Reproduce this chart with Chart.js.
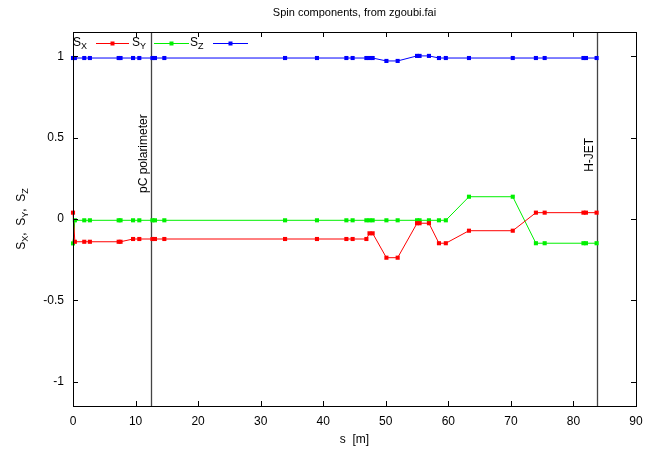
<!DOCTYPE html>
<html><head><meta charset="utf-8">
<script src="https://cdn.jsdelivr.net/npm/chart.js@4/dist/chart.umd.min.js"></script>
<style>html,body{margin:0;padding:0;background:#fff;} #wrap{width:659px;height:449px;}</style>
</head><body><div id="wrap"><canvas id="c" width="659" height="449"></canvas></div>
<script>
// ---- data ----
const sPos = [0, 0.3, 1.8, 2.7, 7.3, 7.6, 9.6, 10.6, 12.7, 13.1, 14.6, 33.9, 39.0, 43.7, 44.7, 46.9, 47.4, 47.9, 50.1, 51.9, 55.0, 55.4, 56.9, 58.5, 59.6, 63.3, 70.3, 74.0, 75.4, 81.6, 82.0, 83.7];
const sX = [0.039, -0.14, -0.14, -0.14, -0.14, -0.14, -0.123, -0.123, -0.123, -0.123, -0.123, -0.123, -0.123, -0.123, -0.123, -0.123, -0.088, -0.088, -0.238, -0.238, -0.026, -0.026, -0.026, -0.149, -0.149, -0.072, -0.072, 0.039, 0.039, 0.039, 0.039, 0.039];
const sY = [-0.15, -0.008, -0.008, -0.008, -0.008, -0.008, -0.008, -0.008, -0.008, -0.008, -0.008, -0.008, -0.008, -0.008, -0.008, -0.008, -0.008, -0.008, -0.008, -0.008, -0.008, -0.008, -0.008, -0.008, -0.008, 0.137, 0.137, -0.149, -0.149, -0.149, -0.149, -0.149];
const sZ = [0.99, 0.99, 0.99, 0.99, 0.99, 0.99, 0.99, 0.99, 0.99, 0.99, 0.99, 0.99, 0.99, 0.99, 0.99, 0.99, 0.99, 0.99, 0.972, 0.972, 1.003, 1.003, 1.003, 0.99, 0.99, 0.99, 0.99, 0.99, 0.99, 0.99, 0.99, 0.99];
const xTicks = [0, 10, 20, 30, 40, 50, 60, 70, 80, 90];
const yTicks = [-1, -0.5, 0, 0.5, 1];
const markerLines = [{s: 12.47, label: 'pC polarimeter', at: 0.16}, {s: 83.7, label: 'H-JET', at: 0.29}];
const seriesNames = ['X', 'Y', 'Z'];
const seriesColors = ['#ff0000', '#00f000', '#0000ff'];

const FONT = '"Liberation Sans", Arial, sans-serif';
const toPts = arr => sPos.map((s, i) => ({x: s, y: arr[i]}));

function drawSub(ctx, x, y, parts) {
  let cx = x;
  for (const [t, sub] of parts) {
    ctx.font = (sub ? '9px ' : '12px ') + FONT;
    ctx.fillText(t, cx, y + (sub ? 3 : 0));
    cx += ctx.measureText(t).width;
  }
  return cx - x;
}
function measureSub(ctx, parts) {
  let w = 0;
  for (const [t, sub] of parts) { ctx.font = (sub ? '9px ' : '12px ') + FONT; w += ctx.measureText(t).width; }
  return w;
}

const decor = {
  id: 'decor',
  beforeDatasetsDraw(chart) {
    const {ctx, chartArea: a, scales: {x, y}} = chart;
    ctx.save();
    ctx.strokeStyle = '#444';
    ctx.lineWidth = 1.3;
    for (const m of markerLines) {
      const px = Math.round(x.getPixelForValue(m.s)) + 0.5;
      ctx.beginPath(); ctx.moveTo(px, a.top); ctx.lineTo(px, a.bottom); ctx.stroke();
    }
    ctx.restore();
  },
  afterDraw(chart) {
    const {ctx, chartArea: a, scales: {x, y}} = chart;
    ctx.save();
    ctx.strokeStyle = '#000'; ctx.lineWidth = 1;
    ctx.strokeRect(Math.round(a.left) + 0.5, Math.round(a.top) + 0.5, Math.round(a.right - a.left), Math.round(a.bottom - a.top));
    const tl = 5;
    ctx.beginPath();
    for (const v of xTicks) {
      const px = Math.round(x.getPixelForValue(v)) + 0.5;
      ctx.moveTo(px, a.bottom); ctx.lineTo(px, a.bottom - tl);
      ctx.moveTo(px, a.top); ctx.lineTo(px, a.top + tl);
    }
    for (const v of yTicks) {
      const py = Math.round(y.getPixelForValue(v)) + 0.5;
      ctx.moveTo(a.left, py); ctx.lineTo(a.left + tl, py);
      ctx.moveTo(a.right, py); ctx.lineTo(a.right - tl, py);
    }
    ctx.stroke();
    ctx.fillStyle = '#000';
    ctx.font = '12px ' + FONT;
    ctx.textBaseline = 'alphabetic';
    ctx.textAlign = 'left';
    for (const m of markerLines) {
      const px = x.getPixelForValue(m.s) - 4;
      const py = y.getPixelForValue(m.at);
      ctx.save(); ctx.translate(px, py); ctx.rotate(-Math.PI / 2);
      ctx.fillText(m.label, 0, 0);
      ctx.restore();
    }
    ctx.textAlign = 'center';
    ctx.font = '11px ' + FONT;
    ctx.fillText('Spin components, from zgoubi.fai', (a.left + a.right) / 2, 16);
    ctx.font = '12px ' + FONT;
    ctx.fillText('s  [m]', (a.left + a.right) / 2, 443);
    ctx.textAlign = 'left';
    const yParts = [['S', 0], ['X', 1], [',  ', 0], ['S', 0], ['Y', 1], [',  ', 0], ['S', 0], ['Z', 1]];
    const w = measureSub(ctx, yParts);
    ctx.save(); ctx.translate(25, (a.top + a.bottom) / 2); ctx.rotate(-Math.PI / 2);
    drawSub(ctx, -w / 2, 0, yParts);
    ctx.restore();
    const ly = 46;
    const entries = [
      {tx: 73, l0: 96, l1: 129},
      {tx: 132, l0: 154, l1: 189},
      {tx: 190, l0: 213, l1: 248}
    ];
    entries.forEach((e, i) => {
      ctx.fillStyle = '#000';
      drawSub(ctx, e.tx, ly, [['S', 0], [seriesNames[i], 1]]);
      ctx.strokeStyle = seriesColors[i]; ctx.lineWidth = 1;
      ctx.beginPath(); ctx.moveTo(e.l0, ly - 2.5); ctx.lineTo(e.l1, ly - 2.5); ctx.stroke();
      ctx.fillStyle = seriesColors[i];
      const mx = (e.l0 + e.l1) / 2;
      ctx.fillRect(mx - 2, ly - 4.5, 4, 4);
    });
    ctx.restore();
  }
};

const mk = (arr, i) => ({
  data: toPts(arr), borderColor: seriesColors[i], backgroundColor: seriesColors[i],
  borderWidth: 1, pointStyle: 'rect', pointRadius: 2.9, pointBorderWidth: 0, tension: 0, clip: false
});

new Chart(document.getElementById('c'), {
  type: 'line',
  data: {datasets: [mk(sX, 0), mk(sY, 1), mk(sZ, 2)]},
  options: {
    responsive: false, animation: false, devicePixelRatio: 1,
    layout: {padding: {left: 0, right: 23, top: 32, bottom: 0}},
    plugins: {legend: {display: false}, title: {display: false}, tooltip: {enabled: false}},
    scales: {
      x: {
        type: 'linear', min: 0, max: 90,
        afterBuildTicks: s => { s.ticks = xTicks.map(v => ({value: v})); },
        afterFit: s => { s.height = 43; },
        grid: {display: false, drawTicks: false},
        border: {display: false},
        ticks: {padding: 8, color: '#000', font: {family: FONT, size: 12}, maxRotation: 0, callback: v => String(v)}
      },
      y: {
        type: 'linear', min: -1.15, max: 1.15,
        afterBuildTicks: s => { s.ticks = yTicks.map(v => ({value: v})); },
        afterFit: s => { s.width = 73; },
        grid: {display: false, drawTicks: false},
        border: {display: false},
        ticks: {padding: 9, color: '#000', font: {family: FONT, size: 12}, callback: v => String(v)}
      }
    }
  },
  plugins: [decor]
});
</script></body></html>
